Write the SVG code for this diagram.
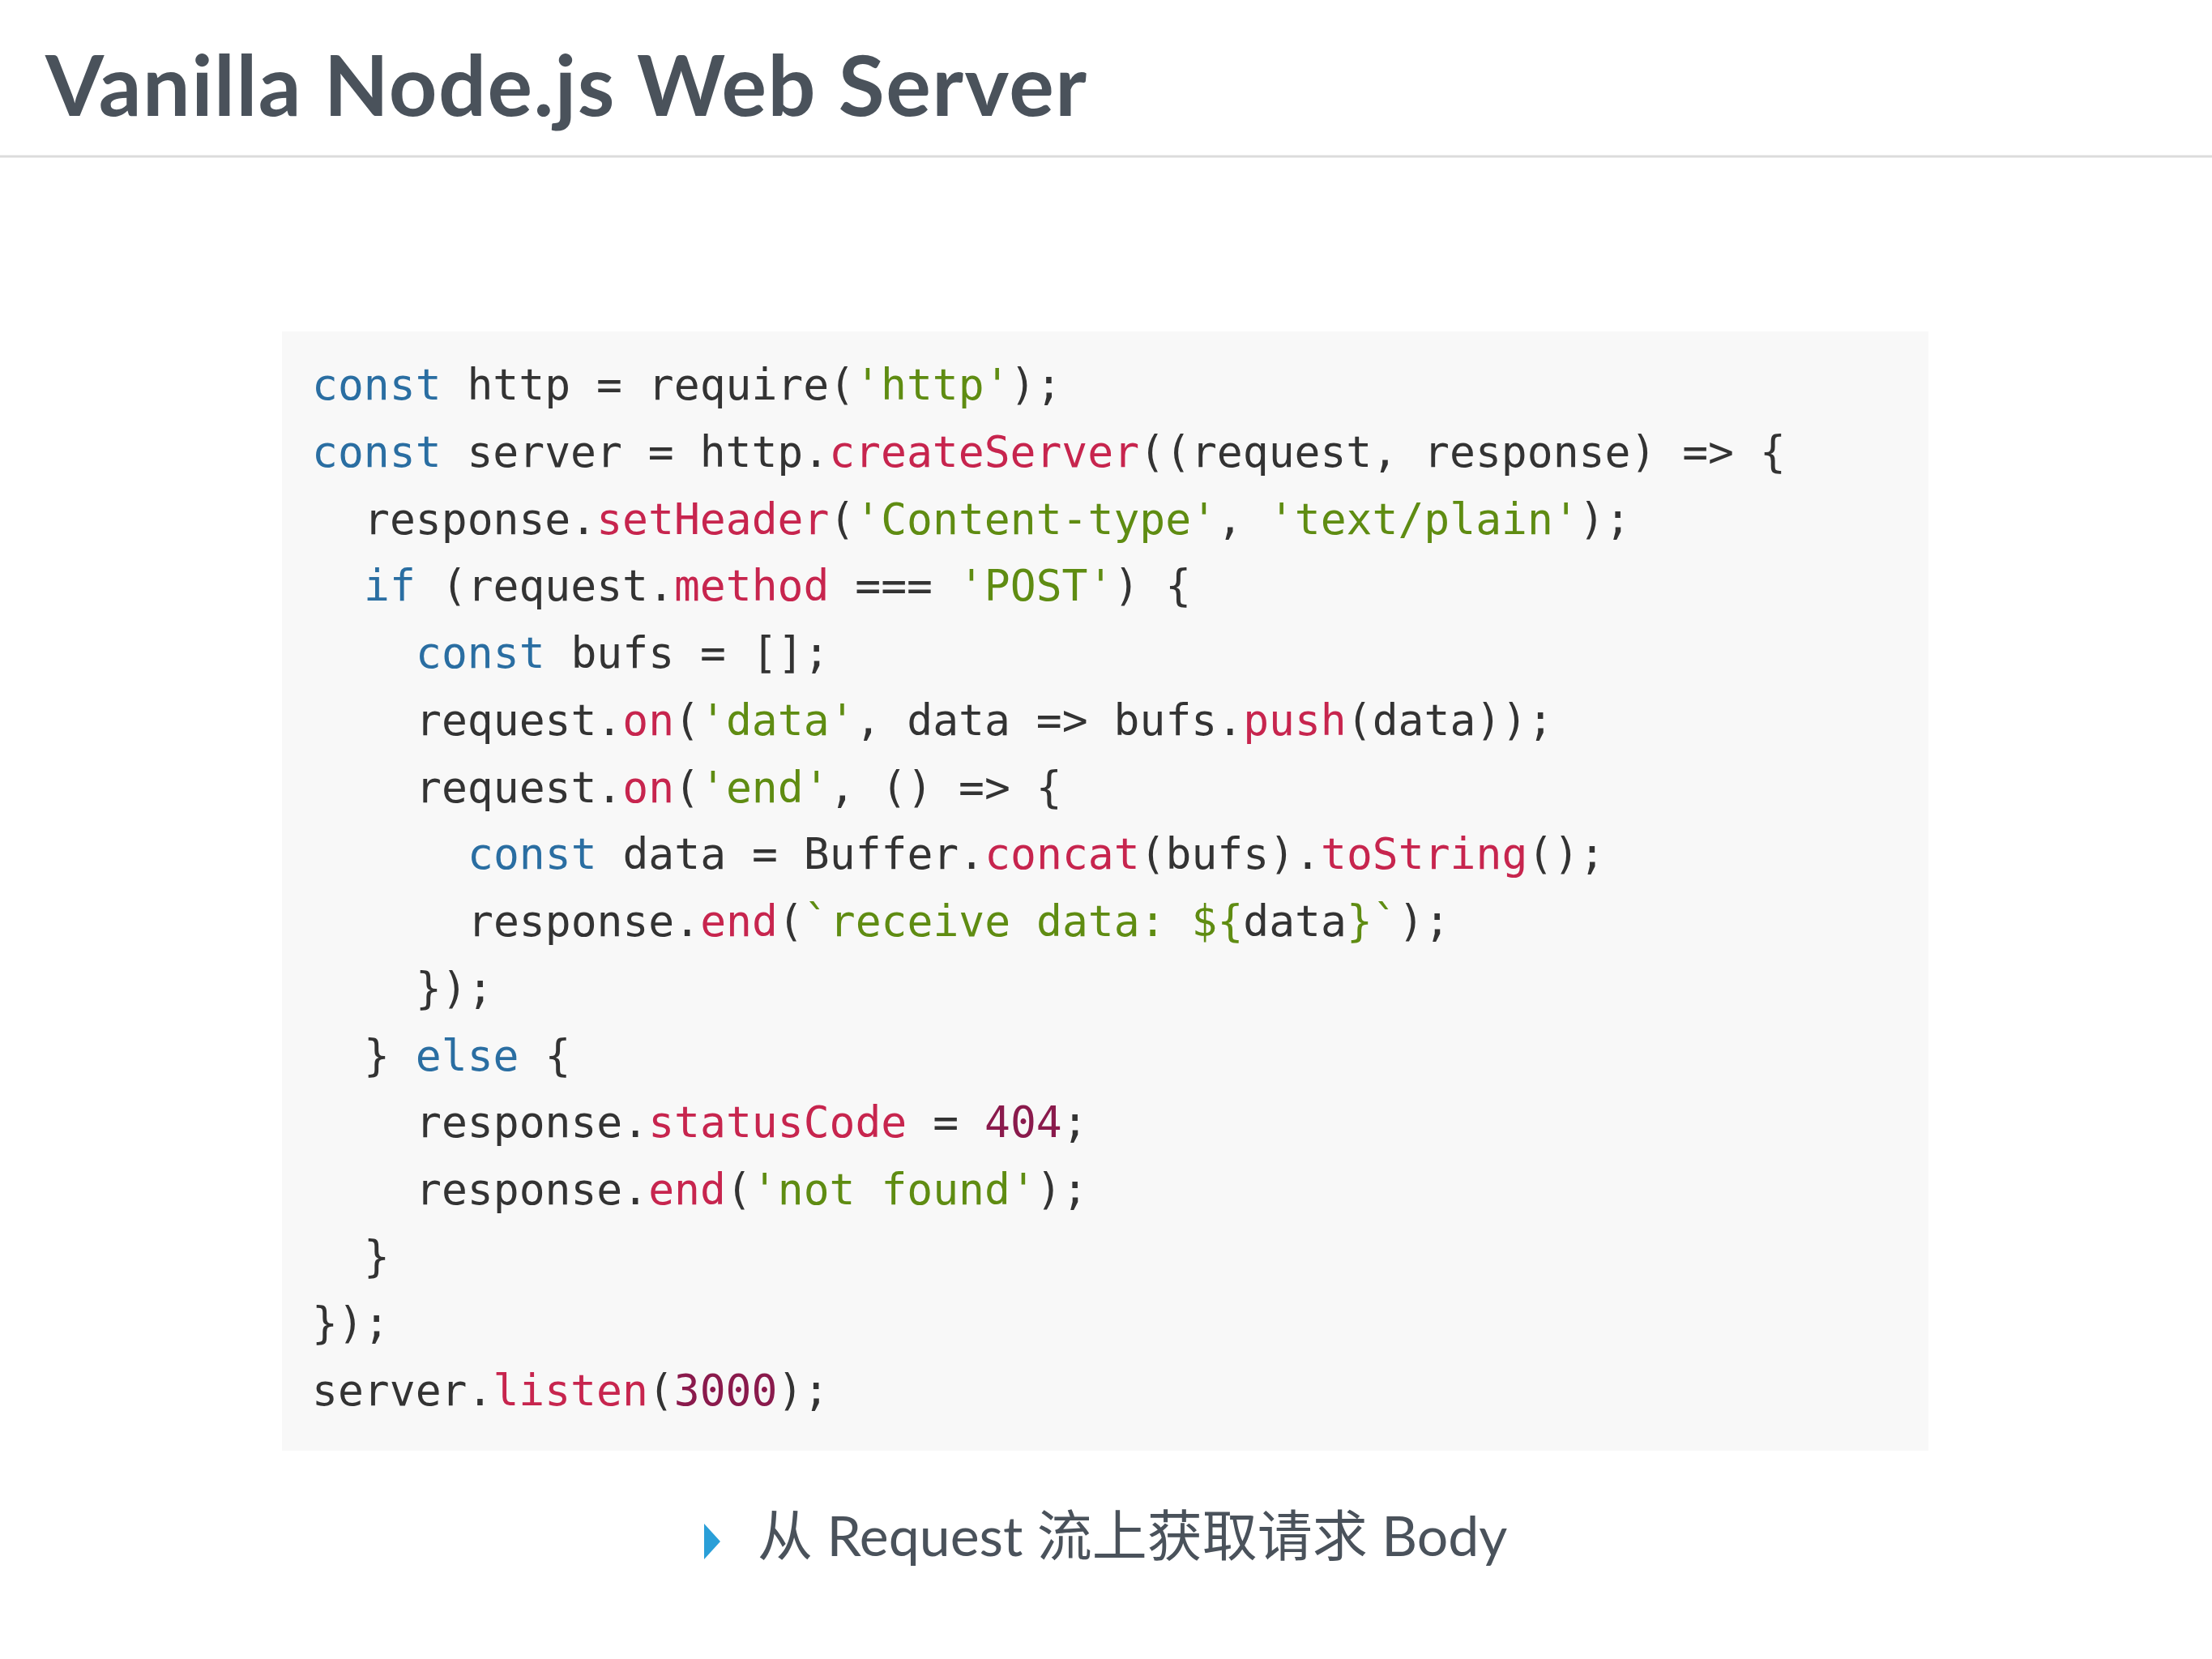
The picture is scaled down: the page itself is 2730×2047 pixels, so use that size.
<svg xmlns="http://www.w3.org/2000/svg" width="2730" height="2047" viewBox="0 0 2730 2047">
<style>
.c{font-family:"DejaVu Sans Mono","Liberation Mono",monospace;font-size:53px;fill:#333;white-space:pre}
.k{fill:#2a6ea2}.f{fill:#c7254e}.s{fill:#5f8c12}.n{fill:#8a1a4c}
</style>
<rect width="2730" height="2047" fill="#fff"/>
<g id="title"><text x="56" y="143" font-family="Lato,'Noto Sans',sans-serif" font-weight="700" font-size="104" fill="#4a525b" textLength="1285">Vanilla Node.js Web Server</text>
<line x1="0" y1="193" x2="2730" y2="193" stroke="#dcdcdc" stroke-width="3"/></g>
<g id="code">
<rect x="348" y="409" width="2032" height="1381" fill="#f8f8f8"/>
<text class="c" xml:space="preserve">
<tspan x="385" y="493"><tspan class="k">const</tspan> http = require(<tspan class="s">'http'</tspan>);</tspan>
<tspan x="385" y="576"><tspan class="k">const</tspan> server = http.<tspan class="f">createServer</tspan>((request, response) =&gt; {</tspan>
<tspan x="449" y="659">response.<tspan class="f">setHeader</tspan>(<tspan class="s">'Content-type'</tspan>, <tspan class="s">'text/plain'</tspan>);</tspan>
<tspan x="449" y="741"><tspan class="k">if</tspan> (request.<tspan class="f">method</tspan> === <tspan class="s">'POST'</tspan>) {</tspan>
<tspan x="513" y="824"><tspan class="k">const</tspan> bufs = [];</tspan>
<tspan x="513" y="907">request.<tspan class="f">on</tspan>(<tspan class="s">'data'</tspan>, data =&gt; bufs.<tspan class="f">push</tspan>(data));</tspan>
<tspan x="513" y="990">request.<tspan class="f">on</tspan>(<tspan class="s">'end'</tspan>, () =&gt; {</tspan>
<tspan x="577" y="1072"><tspan class="k">const</tspan> data = Buffer.<tspan class="f">concat</tspan>(bufs).<tspan class="f">toString</tspan>();</tspan>
<tspan x="577" y="1155">response.<tspan class="f">end</tspan>(<tspan class="s">`receive data: ${</tspan>data<tspan class="s">}`</tspan>);</tspan>
<tspan x="513" y="1238">});</tspan>
<tspan x="449" y="1321">} <tspan class="k">else</tspan> {</tspan>
<tspan x="513" y="1403">response.<tspan class="f">statusCode</tspan> = <tspan class="n">404</tspan>;</tspan>
<tspan x="513" y="1486">response.<tspan class="f">end</tspan>(<tspan class="s">'not found'</tspan>);</tspan>
<tspan x="449" y="1569">}</tspan>
<tspan x="385" y="1651">});</tspan>
<tspan x="385" y="1734">server.<tspan class="f">listen</tspan>(<tspan class="n">3000</tspan>);</tspan>
</text></g>
<g id="caption">
<polygon points="869,1880 889,1902 869,1924" fill="#2a9fd8"/>
<text x="935" y="1920" font-family="Lato,'Noto Sans','Noto Sans CJK SC',sans-serif" font-size="68" fill="#4a525b">从 Request 流上获取请求 Body</text>
</g>
</svg>
